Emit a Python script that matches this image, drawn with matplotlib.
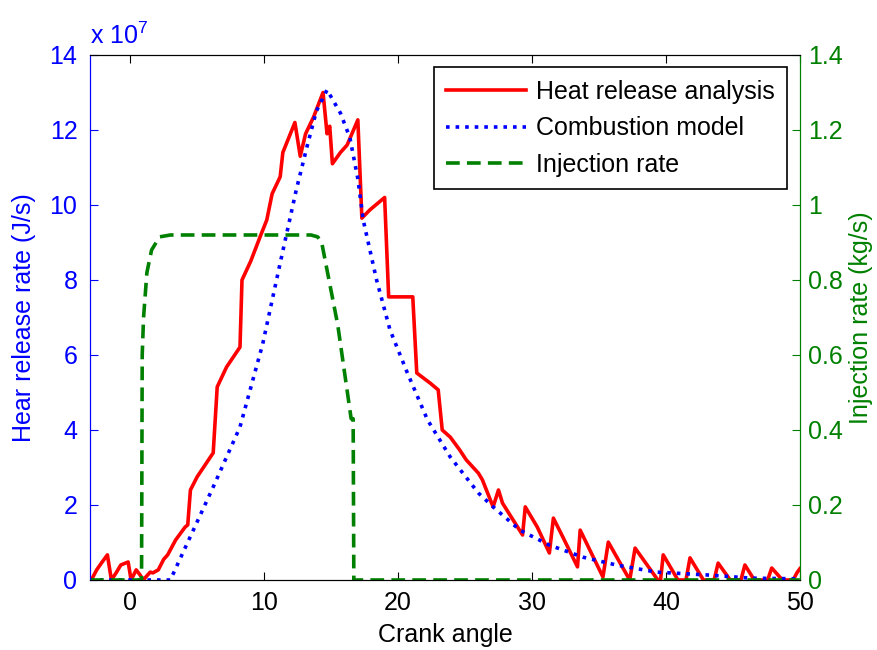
import numpy as np
import matplotlib.pyplot as plt

plt.rcParams['font.family'] = ['Liberation Sans', 'DejaVu Sans']
plt.rcParams['font.size'] = 18
plt.rcParams['mathtext.fontset'] = 'custom'
plt.rcParams['mathtext.rm'] = 'Liberation Sans'

# Heat release analysis (x 1e7 J/s)
hr_x = [-2.9, -2.5, -2.15, -1.7, -1.4, -1.05, -0.7, -0.15, 0.07, 0.45, 0.75, 0.97,
        1.5, 1.7, 2.1, 2.5, 2.8, 3.4, 4.1, 4.3, 4.5, 5.0, 6.2, 6.5, 7.2, 8.2, 8.35,
        9.0, 9.7, 10.2, 10.6, 11.2, 11.4, 12.3, 12.7, 13.1, 13.7, 14.4, 14.7, 14.9,
        15.1, 15.7, 16.2, 17.0, 17.3, 17.9, 19.0, 19.3, 19.9, 21.1, 21.4, 22.4, 23.0,
        23.3, 23.9, 24.6, 25.1, 26.0, 26.3, 27.1, 27.5, 27.8, 29.3, 29.5, 30.4, 31.3,
        31.6, 32.3, 33.4, 33.6, 35.3, 35.7, 37.3, 37.7, 39.4, 39.6, 39.8, 40.9, 41.5,
        41.8, 42.8, 43.6, 43.9, 44.8, 45.6, 45.9, 46.6, 47.6, 47.9, 48.7, 49.5, 49.8, 50.0]
hr_y = [0.0, 0.27, 0.45, 0.67, 0.0, 0.19, 0.4, 0.48, 0.0, 0.27, 0.13, 0.0,
        0.21, 0.19, 0.27, 0.55, 0.67, 1.07, 1.41, 1.47, 2.4, 2.75, 3.39, 5.15, 5.68, 6.21, 8.0,
        8.5, 9.15, 9.6, 10.3, 10.75, 11.4, 12.2, 11.3, 11.9, 12.35, 13.0, 11.9, 12.1,
        11.1, 11.4, 11.6, 12.27, 9.65, 9.87, 10.2, 7.55, 7.55, 7.55, 5.52, 5.25, 5.07,
        4.0, 3.81, 3.47, 3.2, 2.85, 2.67, 1.95, 2.4, 2.05, 1.2, 1.95, 1.41, 0.72,
        1.65, 1.15, 0.35, 1.33, 0.08, 1.01, 0.0, 0.85, 0.0, 0.0, 0.67, 0.0, 0.0,
        0.59, 0.0, 0.0, 0.45, 0.0, 0.0, 0.4, 0.0, 0.0, 0.32, 0.0, 0.0, 0.2, 0.3]

# Combustion model (x 1e7 J/s)
cm_x = [-3.0, 3.0, 6.2, 8.2, 9.9, 11.2, 12.4, 13.2, 13.9, 14.7, 15.7, 16.4, 17.0,
        17.4, 18.4, 19.4, 20.7, 22.2, 23.9, 26.0, 27.1, 29.1, 31.3, 33.8, 36.3, 39.3,
        43.3, 46.3, 50.0]
cm_y = [0.0, 0.0, 2.48, 4.08, 6.3, 8.45, 10.4, 11.55, 12.5, 13.07, 12.45, 11.8, 10.7,
        9.6, 8.0, 6.67, 5.52, 4.27, 3.28, 2.32, 1.95, 1.33, 0.93, 0.61, 0.4, 0.21,
        0.13, 0.05, 0.03]

# Injection rate (kg/s)
inj_x = [-3.0, 0.85, 0.9, 1.0, 1.25, 1.6, 2.2, 3.0, 13.5, 14.0, 14.3, 15.5, 16.5,
         16.65, 16.7, 50.0]
inj_y = [0.0, 0.0, 0.6, 0.7, 0.82, 0.88, 0.915, 0.92, 0.92, 0.915, 0.9, 0.68, 0.43,
         0.43, 0.0, 0.0]

blue = '#0000ff'
green = '#008000'

fig = plt.figure(figsize=(8.77, 6.5), dpi=100)
ax = fig.add_axes([0.1026, 0.1077, 0.8094, 0.8077])
ax2 = ax.twinx()

l1, = ax.plot(hr_x, hr_y, color='red', lw=2.6, label='Heat release analysis')
l2, = ax.plot(cm_x, cm_y, color=blue, lw=2.6, ls=':', label='Combustion model')
l3, = ax2.plot(inj_x, inj_y, color=green, lw=2.6, ls='--', dashes=(3.8, 2.0),
               label='Injection rate')

ax.set_xlim(-3, 50)
ax.set_ylim(0, 14)
ax2.set_ylim(0, 1.4)
ax.set_xticks([0, 10, 20, 30, 40, 50])
ax.set_yticks(np.arange(0, 15, 2))
ax2.set_yticks(np.arange(0, 1.41, 0.2))
ax2.set_yticklabels(['0', '0.2', '0.4', '0.6', '0.8', '1', '1.2', '1.4'])

ax.tick_params(axis='x', direction='in', top=True, length=6, pad=8)
ax.tick_params(axis='y', direction='in', colors=blue, length=6, pad=9)
ax2.tick_params(axis='y', direction='in', colors=green, length=6, pad=6)
ax.spines['left'].set_color(blue)
ax2.spines['left'].set_color(blue)
ax2.spines['right'].set_color(green)
ax.spines['right'].set_color(green)

ax.set_xlabel('Crank angle', labelpad=6)
ax.set_ylabel('Hear release rate (J/s)', color=blue, labelpad=10)
ax2.set_ylabel('Injection rate (kg/s)', color=green, labelpad=4)
ax.text(0.0, 1.012, r'x 10$^{7}$', transform=ax.transAxes, color=blue,
        ha='left', va='bottom')

leg = ax2.legend(handles=[l1, l2, l3], loc='upper right', fancybox=False,
                 edgecolor='black', framealpha=1, borderaxespad=0.5,
                 handlelength=3.2, handletextpad=0.4, labelspacing=0.5,
                 borderpad=0.5)
leg.get_frame().set_linewidth(1.2)

fig.savefig('out.png', dpi=100)
